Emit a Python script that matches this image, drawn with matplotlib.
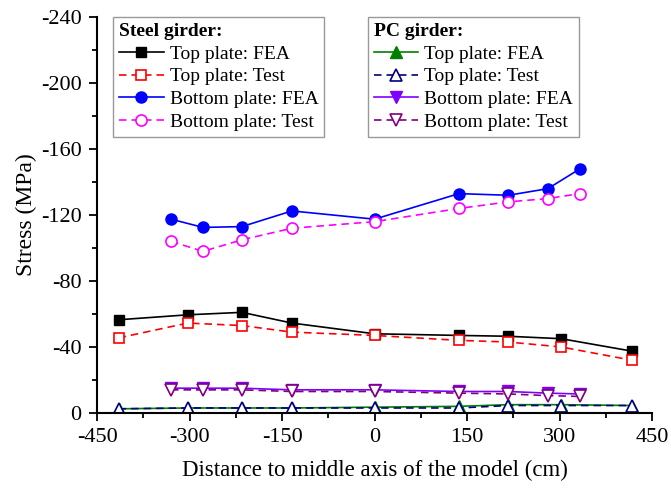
import matplotlib.pyplot as plt
from matplotlib.ticker import MultipleLocator

plt.rcParams['font.family'] = ['Liberation Serif', 'DejaVu Serif']
plt.rcParams['axes.unicode_minus'] = False

# measuring points (cm from middle axis)
x_top = [-415, -303, -215, -134, 0, 137, 217, 303, 417]
x_bot = [-330, -278, -215, -134, 0, 137, 217, 281, 333]

# steel girder stresses (MPa)
steel_top_fea = [-56.5, -59.5, -61, -54.5, -48, -47, -46.5, -45, -37.5]
steel_top_test = [-45.5, -54.5, -53, -49, -47, -44, -43, -40, -32]
steel_bot_fea = [-117.5, -112.5, -113, -122.5, -117.5, -133, -132, -136, -148]
steel_bot_test = [-104, -98, -105, -112, -116, -124, -128, -130, -133]

# PC girder stresses (MPa)
pc_top_fea = [-2.5, -3.0, -3.0, -3.0, -3.5, -4.0, -5.0, -5.0, -4.5]
pc_top_test = [-2.5, -3.0, -3.0, -3.0, -3.0, -3.0, -4.5, -4.5, -4.5]
pc_bot_fea = [-15, -15, -15, -14, -14, -13, -13, -12, -11.5]
pc_bot_test = [-14, -14, -14, -13, -13, -12, -11.5, -10.5, -10]

fig = plt.figure(figsize=(6.71, 4.91), dpi=100)
ax = fig.add_axes([0.1446, 0.159, 0.8271, 0.806])

lw = 1.2
dash = (0, (4.5, 3))
s1, = ax.plot(x_top, steel_top_fea, '-', color='black', marker='s', ms=7, lw=lw)
s2, = ax.plot(x_top, steel_top_test, linestyle=dash, color='#ff0000', marker='s', ms=7,
              mfc='white', mew=1.2, lw=lw)
s3, = ax.plot(x_bot, steel_bot_fea, '-', color='#0000ff', marker='o', ms=8, lw=lw)
s4, = ax.plot(x_bot, steel_bot_test, linestyle=dash, color='#ff00ff', marker='o', ms=8,
              mfc='white', mew=1.2, lw=lw)

p1, = ax.plot(x_top, pc_top_fea, '-', color='#008000', marker='^', ms=8, lw=lw)
p2, = ax.plot(x_top, pc_top_test, linestyle=dash, color='#000080', marker='^', ms=8,
              mfc='white', mew=1.2, lw=lw)
p3, = ax.plot(x_bot, pc_bot_fea, '-', color='#8000ff', marker='v', ms=8, lw=lw)
p4, = ax.plot(x_bot, pc_bot_test, linestyle=dash, color='#800080', marker='v', ms=8,
              mfc='white', mew=1.2, lw=lw)

ax.set_xlim(-450, 450)
ax.set_ylim(0, -240)
ax.xaxis.set_major_locator(MultipleLocator(150))
ax.xaxis.set_minor_locator(MultipleLocator(75))
ax.yaxis.set_major_locator(MultipleLocator(40))
ax.yaxis.set_minor_locator(MultipleLocator(20))
ax.tick_params(which='major', direction='out', length=6, width=1.3, labelsize=16, pad=5)
ax.tick_params(which='minor', direction='out', length=3.5, width=1.3)
for side in ['top', 'right']:
    ax.spines[side].set_visible(False)
for side in ['left', 'bottom']:
    ax.spines[side].set_linewidth(1.5)

ax.set_xlabel('Distance to middle axis of the model (cm)', fontsize=16.5, labelpad=9)
ax.set_ylabel('Stress (MPa)', fontsize=17, labelpad=3)

labels = ['Top plate: FEA', 'Top plate: Test', 'Bottom plate: FEA', 'Bottom plate: Test']
leg_kw = dict(loc='upper left', fontsize=14, frameon=True, fancybox=False,
              edgecolor='gray', handlelength=2.3, handletextpad=0.3,
              labelspacing=0.26, borderpad=0.3, borderaxespad=0,
              title_fontproperties={'weight': 'bold', 'size': 14},
              alignment='left')
leg1 = ax.legend([s1, s2, s3, s4], labels, title='Steel girder:',
                 bbox_to_anchor=(0.029, 1.0), **leg_kw)
leg1.get_frame().set_linewidth(1.0)
ax.add_artist(leg1)
leg2 = ax.legend([p1, p2, p3, p4], labels, title='PC girder:',
                 bbox_to_anchor=(0.488, 1.0), **leg_kw)
leg2.get_frame().set_linewidth(1.0)

fig.savefig('out.png', dpi=100)
